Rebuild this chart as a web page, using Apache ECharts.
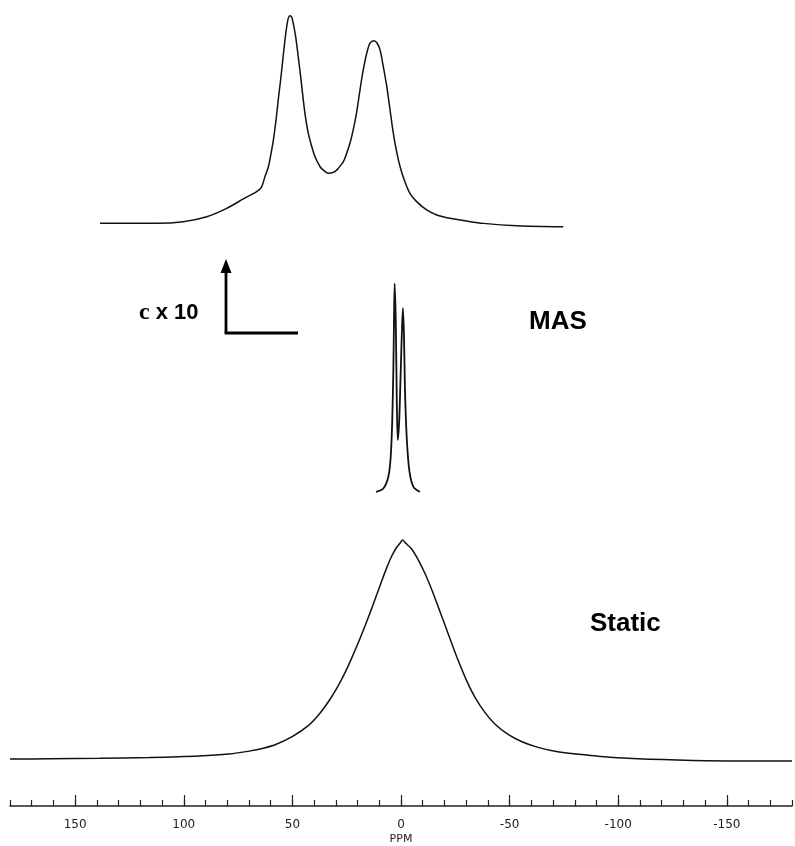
<!DOCTYPE html>
<html>
<head>
<meta charset="utf-8">
<script src="https://cdn.jsdelivr.net/npm/echarts@6/dist/echarts.min.js"></script>
<style>
  html, body { margin: 0; padding: 0; background: #fff; }
  #chart { width: 795px; height: 846px; }
</style>
</head>
<body>
<div id="chart"></div>
<script>
  // top trace: MAS spectrum, expanded x10
  const masExpPpm = [138.7, 112.7, 100.5, 89.8, 80.6, 73.0, 66.9, 64.6, 63.1, 61.5, 60.0, 59.2, 58.0, 57.0, 55.9, 54.9, 53.9, 53.1, 52.4, 51.6, 50.8, 50.1, 49.0, 47.8, 46.7, 45.5, 44.3, 43.2, 41.6, 40.1, 37.8, 36.3, 34.0, 31.7, 30.2, 29.4, 27.1, 25.6, 24.1, 22.6, 21.0, 19.5, 18.0, 16.4, 14.9, 13.1, 11.6, 10.3, 8.8, 7.2, 5.7, 4.2, 2.7, 1.1, -1.1, -3.4, -6.5, -11.1, -15.7, -21.8, -29.4, -37.1, -52.4, -73.7];
  const masExpInt = [0.3, 0.3, 1.1, 3.5, 7.5, 12.0, 15.5, 17.8, 22.6, 27.4, 35.4, 40.2, 49.8, 59.3, 68.9, 78.5, 88.0, 94.4, 98.4, 99.7, 98.9, 96.0, 89.6, 80.0, 70.5, 59.3, 49.8, 43.4, 37.0, 32.2, 27.4, 25.8, 24.3, 24.7, 25.8, 26.7, 29.8, 33.8, 38.6, 45.0, 53.7, 64.1, 73.7, 81.7, 86.5, 87.7, 86.5, 83.3, 75.3, 65.7, 54.5, 43.4, 34.6, 27.4, 20.2, 14.7, 10.7, 6.7, 4.3, 2.7, 1.4, 0.3, -0.8, -1.3];

  // middle trace: MAS spectrum
  const masPpm = [12.15, 8.8, 6.5, 5.4, 4.7, 4.2, 3.9, 3.6, 3.1, 2.7, 2.2, 1.5, 0.8, 0.2, -0.2, -0.7, -1.1, -1.9, -3.1, -5.0, -8.0];
  const masInt = [0.1, 1.7, 7.3, 17.0, 34.4, 58.4, 82.3, 99.8, 82.3, 50.4, 24.9, 34.4, 58.4, 79.1, 88.0, 74.3, 50.4, 26.8, 10.5, 2.5, 0.1];

  // bottom trace: static spectrum
  const staticPpm = [180, 161.6, 138.7, 115.8, 92.9, 79.1, 69.9, 63.8, 57.7, 50.1, 42.4, 37.8, 33.2, 29.4, 25.6, 22.6, 19.5, 16.4, 13.4, 11.1, 8.8, 6.5, 4.2, 1.9, 0.4, -0.7, -1.9, -5.0, -8.0, -11.1, -13.4, -15.7, -18.7, -21.8, -24.1, -26.4, -30.2, -34.0, -38.6, -43.2, -49.3, -55.4, -63.1, -72.2, -90.6, -104.3, -127.3, -150.2, -180];
  const staticInt = [0, 0.1, 0.3, 0.7, 1.4, 2.3, 3.6, 4.8, 6.6, 10.2, 15.5, 20.3, 26.5, 32.6, 39.8, 46.3, 53.5, 61.2, 69.0, 75.2, 81.5, 87.5, 92.8, 96.8, 98.6, 100, 98.8, 95.8, 90.8, 84.6, 79.2, 73.3, 65.3, 57.0, 50.8, 44.8, 35.8, 28.3, 21.3, 16.0, 11.2, 8.0, 5.3, 3.3, 1.3, 0.3, -0.5, -0.9, -0.9];

  const majorTicks = [150, 100, 50, 0, -50, -100, -150];

  function pairs(xs, ys) {
    return xs.map((x, i) => [x, ys[i]]);
  }

  function trace(idx, data, width) {
    return {
      type: 'line',
      xAxisIndex: idx,
      yAxisIndex: idx,
      data: data,
      showSymbol: false,
      smooth: 0.3,
      clip: false,
      lineStyle: { color: '#111', width: width }
    };
  }

  const hiddenX = (idx) => ({
    gridIndex: idx, type: 'value', min: -180, max: 180, inverse: true, show: false
  });

  const chart = echarts.init(document.getElementById('chart'));
  chart.setOption({
    animation: false,
    backgroundColor: '#fff',
    grid: [
      { left: 10, right: 0, top: 15, height: 209 },
      { left: 10, right: 0, top: 283, height: 209 },
      { left: 10, right: 0, top: 540, height: 220 }
    ],
    xAxis: [
      hiddenX(0),
      hiddenX(1),
      {
        gridIndex: 2, type: 'value', min: -180, max: 180, inverse: true,
        position: 'bottom', offset: 47, interval: 10,
        axisLine: { onZero: false, lineStyle: { color: '#222', width: 1.5 } },
        axisTick: { inside: true, length: 6, lineStyle: { color: '#222', width: 1.2 } },
        axisLabel: {
          margin: 13, fontSize: 12, color: '#222', fontFamily: 'DejaVu Sans',
          formatter: v => (v % 50 === 0 ? String(v) : '')
        },
        splitLine: { show: false },
        name: 'PPM', nameLocation: 'middle', nameGap: 28,
        nameTextStyle: { fontSize: 11, color: '#222', fontFamily: 'DejaVu Sans' }
      },
      {
        gridIndex: 2, type: 'value', min: -180, max: 180, inverse: true,
        position: 'bottom', offset: 47,
        axisLine: { show: false, onZero: false },
        axisTick: { inside: true, length: 11, customValues: majorTicks, lineStyle: { color: '#222', width: 1.2 } },
        axisLabel: { show: false },
        splitLine: { show: false }
      }
    ],
    yAxis: [
      { gridIndex: 0, type: 'value', min: 0, max: 100, show: false },
      { gridIndex: 1, type: 'value', min: 0, max: 100, show: false },
      { gridIndex: 2, type: 'value', min: 0, max: 100, show: false }
    ],
    series: [
      trace(0, pairs(masExpPpm, masExpInt), 1.5),
      trace(1, pairs(masPpm, masInt), 1.8),
      trace(2, pairs(staticPpm, staticInt), 1.5)
    ],
    graphic: [
      {
        type: 'text', left: 139, top: 301,
        style: {
          text: '{c|c}{t| x 10}',
          rich: {
            c: { fontFamily: 'Liberation Serif', fontWeight: 'bold', fontSize: 24, fill: '#000' },
            t: { fontFamily: 'Liberation Sans', fontWeight: 'bold', fontSize: 22, fill: '#000' }
          }
        }
      },
      { type: 'line', shape: { x1: 226, y1: 333, x2: 226, y2: 270 }, style: { stroke: '#000', lineWidth: 2.8 } },
      { type: 'line', shape: { x1: 224.6, y1: 333, x2: 298, y2: 333 }, style: { stroke: '#000', lineWidth: 2.8 } },
      { type: 'polygon', shape: { points: [[226, 259], [220.5, 273], [231.5, 273]] }, style: { fill: '#000' } },
      {
        type: 'text', left: 529, top: 309,
        style: { text: 'MAS', fontFamily: 'Liberation Sans', fontWeight: 'bold', fontSize: 26, fill: '#000' }
      },
      {
        type: 'text', left: 590, top: 611,
        style: { text: 'Static', fontFamily: 'Liberation Sans', fontWeight: 'bold', fontSize: 26, fill: '#000' }
      }
    ]
  });
</script>
</body>
</html>
